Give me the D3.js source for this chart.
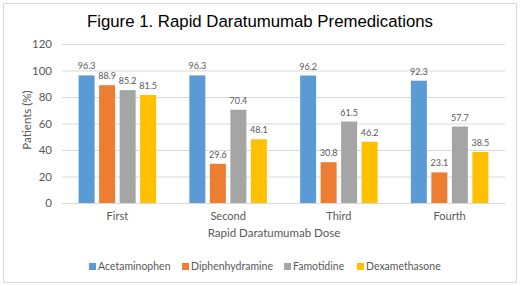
<!DOCTYPE html>
<html>
<head>
<meta charset="utf-8">
<script src="https://cdn.jsdelivr.net/npm/d3@7"></script>
<style>
  body { margin: 0; background: #fff; }
  svg { display: block; }
</style>
</head>
<body>
<div id="chart"></div>
<script>
// chart data
var doses = ["First", "Second", "Third", "Fourth"];
var drugs = ["Acetaminophen", "Diphenhydramine", "Famotidine", "Dexamethasone"];
var acetaminophen = [96.3, 96.3, 96.2, 92.3];
var diphenhydramine = [88.9, 29.6, 30.8, 23.1];
var famotidine = [85.2, 70.4, 61.5, 57.7];
var dexamethasone = [81.5, 48.1, 46.2, 38.5];
var yTicks = [0, 20, 40, 60, 80, 100, 120];
var colors = ["#5B9BD5", "#ED7D31", "#A5A5A5", "#FFC000"];

var seriesValues = [acetaminophen, diphenhydramine, famotidine, dexamethasone];

var W = 520, H = 286;
var margin = {top: 44, right: 15, bottom: 83, left: 62};
var font = "Lato, 'Open Sans', sans-serif";

var svg = d3.select("#chart").append("svg")
  .attr("width", W)
  .attr("height", H);

// outer frame
svg.append("rect")
  .attr("x", 3.5).attr("y", 3.5)
  .attr("width", W - 7).attr("height", H - 7)
  .attr("fill", "#fff")
  .attr("stroke", "#D9D9D9");

var x0 = d3.scaleBand()
  .domain(doses)
  .range([margin.left, W - margin.right])
  .paddingInner(0.3)
  .paddingOuter(0.15);

var x1 = d3.scaleBand()
  .domain(drugs)
  .range([0, x0.bandwidth()])
  .paddingInner(0.22);

var y = d3.scaleLinear()
  .domain([0, 120])
  .range([H - margin.bottom, margin.top]);

var color = d3.scaleOrdinal().domain(drugs).range(colors);

// gridlines + y labels
var yAxis = d3.axisLeft(y)
  .tickValues(yTicks)
  .tickSize(-(W - margin.right - margin.left))
  .tickPadding(10);

var gy = svg.append("g")
  .attr("transform", "translate(" + margin.left + ",0)")
  .call(yAxis);
gy.select(".domain").remove();
gy.selectAll(".tick line").attr("stroke", "#D9D9D9");
gy.selectAll(".tick text")
  .attr("fill", "#595959")
  .style("font-family", font)
  .style("font-size", "11.5px");

// x axis
var xAxis = d3.axisBottom(x0).tickSize(0).tickPadding(9);
var gx = svg.append("g")
  .attr("transform", "translate(0," + y(0) + ")")
  .call(xAxis);
gx.select(".domain").attr("stroke", "#D9D9D9");
gx.selectAll(".tick text")
  .attr("fill", "#595959")
  .style("font-family", font)
  .style("font-size", "11px");

// bars
var rows = doses.map(function(d, i) {
  return {dose: d, vals: drugs.map(function(k, j) { return {drug: k, value: seriesValues[j][i]}; })};
});

var groups = svg.selectAll("g.group")
  .data(rows)
  .enter().append("g")
  .attr("class", "group")
  .attr("transform", function(d) { return "translate(" + x0(d.dose) + ",0)"; });

groups.selectAll("rect")
  .data(function(d) { return d.vals; })
  .enter().append("rect")
  .attr("x", function(d) { return x1(d.drug); })
  .attr("y", function(d) { return y(d.value); })
  .attr("width", x1.bandwidth())
  .attr("height", function(d) { return y(0) - y(d.value); })
  .attr("fill", function(d) { return color(d.drug); });

groups.selectAll("text.lbl")
  .data(function(d) { return d.vals; })
  .enter().append("text")
  .attr("class", "lbl")
  .attr("x", function(d) { return x1(d.drug) + x1.bandwidth() / 2; })
  .attr("y", function(d) { return y(d.value) - 6; })
  .attr("text-anchor", "middle")
  .attr("fill", "#595959")
  .style("font-family", font)
  .style("font-size", "9px")
  .text(function(d) { return d.value.toFixed(1); });

// title
svg.append("text")
  .attr("x", 260).attr("y", 27)
  .attr("text-anchor", "middle")
  .attr("fill", "#000")
  .style("font-family", "'Liberation Sans', Arial, sans-serif")
  .style("font-size", "16.8px")
  .text("Figure 1. Rapid Daratumumab Premedications");

// axis titles
svg.append("text")
  .attr("x", 274)
  .attr("y", 237)
  .attr("text-anchor", "middle")
  .attr("fill", "#595959")
  .style("font-family", font)
  .style("font-size", "11.5px")
  .text("Rapid Daratumumab Dose");

svg.append("text")
  .attr("transform", "translate(31,120) rotate(-90)")
  .attr("text-anchor", "middle")
  .attr("fill", "#595959")
  .style("font-family", font)
  .style("font-size", "11.5px")
  .text("Patients (%)");

// legend
var legendX = [89, 182, 284, 357];
var legend = svg.selectAll("g.leg")
  .data(drugs)
  .enter().append("g")
  .attr("class", "leg")
  .attr("transform", function(d, i) { return "translate(" + legendX[i] + ",263)"; });

legend.append("rect")
  .attr("width", 7).attr("height", 7)
  .attr("fill", function(d) { return color(d); });

legend.append("text")
  .attr("x", 9).attr("y", 7)
  .attr("fill", "#595959")
  .style("font-family", font)
  .style("font-size", "10.5px")
  .text(function(d) { return d; });
</script>
</body>
</html>
